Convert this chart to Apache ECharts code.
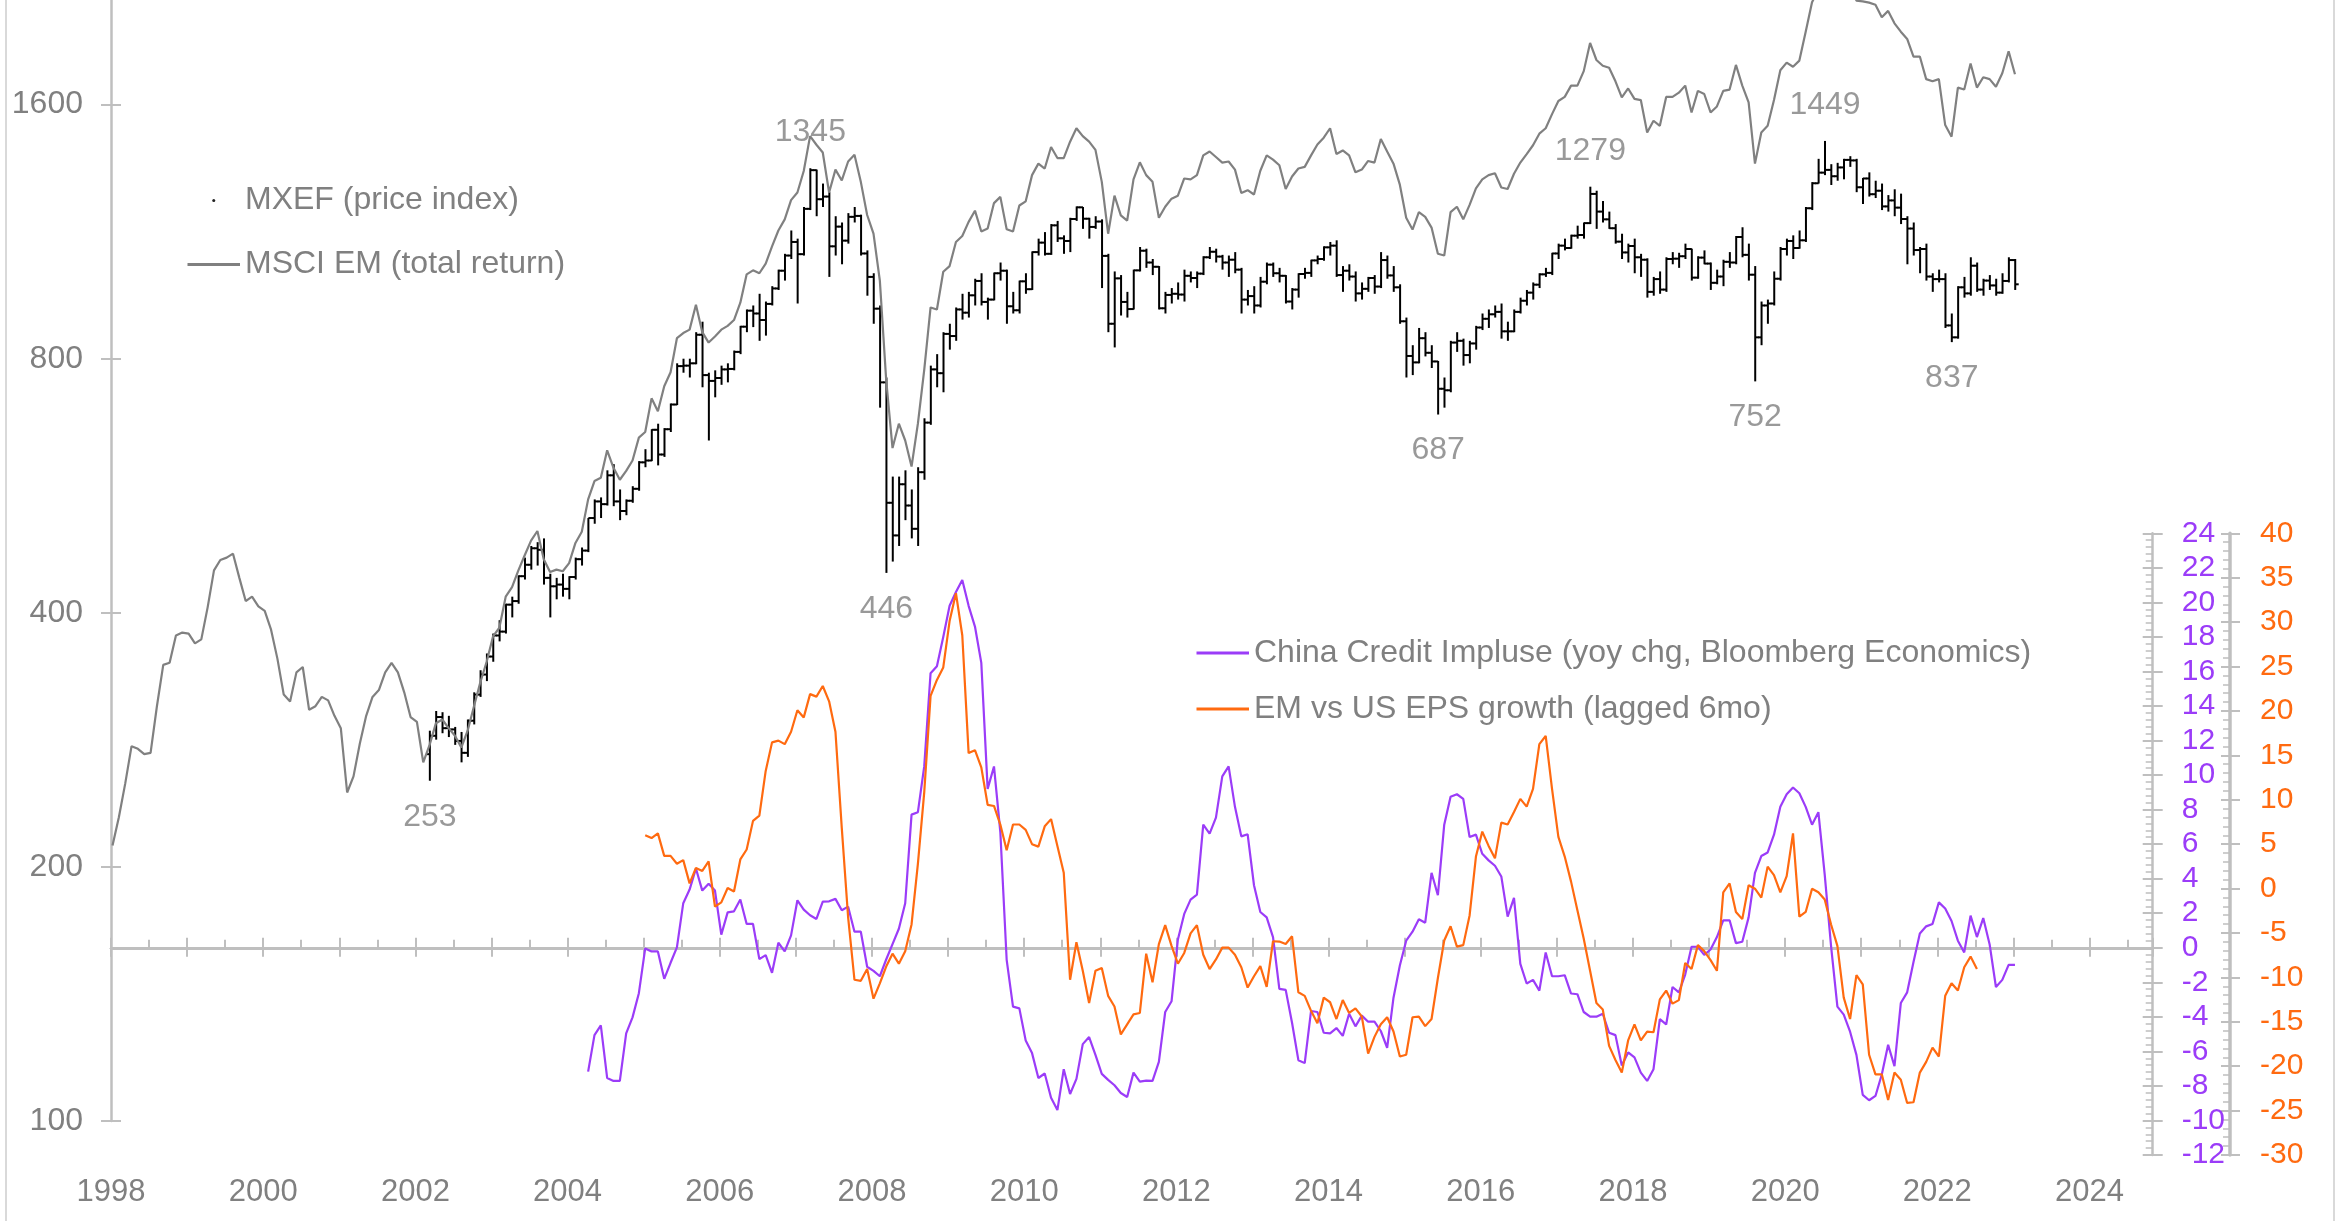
<!DOCTYPE html>
<html>
<head>
<meta charset="utf-8">
<title>MXEF vs China credit impulse</title>
<script src="https://cdn.jsdelivr.net/npm/echarts@6/dist/echarts.min.js"></script>
<style>
  html, body { margin: 0; padding: 0; background: #fff; }
  #wrap { position: relative; width: 2336px; height: 1221px; overflow: hidden; }
  #chart { position: absolute; left: 0; top: 0; width: 2336px; height: 1221px; }
  .edge { position: absolute; top: 0; width: 2px; height: 1221px; background: #d9d9d9; }
</style>
</head>
<body>
<div id="wrap">
  <div id="chart"></div>
  <div class="edge" style="left:5px"></div>
  <div class="edge" style="left:2333px"></div>
</div>
<script>
// x values are chart years; each series is monthly from its start
const totalReturnStart = 1998.02
const mxefStart = 2002.19
const impulseStart = 2004.27
const epsStart = 2005.02

const priceTicks = [100, 200, 400, 800, 1600, 3200]
const yearLabels = [1998, 2000, 2002, 2004, 2006, 2008, 2010, 2012, 2014, 2016, 2018, 2020, 2022, 2024]

// MSCI EM (total return), grey line
const totalReturn = [
  212, 229, 251, 278, 276, 272, 273, 310, 347, 349, 376, 379,
  378, 368, 372, 406, 449, 462, 465, 470, 440, 413, 418, 407,
  402, 382, 353, 320, 314, 340, 345, 307, 310, 318, 315, 302,
  292, 245, 256, 280, 302, 318, 324, 340, 349, 340, 322, 301,
  297, 266, 279, 296, 299, 292, 286, 277, 290, 310, 331, 350,
  375, 384, 418, 429, 449, 468, 487, 500, 463, 447, 450, 448,
  458, 484, 499, 545, 573, 578, 623, 594, 575, 589, 606, 645,
  655, 718, 693, 742, 771, 846, 858, 866, 927, 860, 836, 850,
  866, 875, 889, 932, 1007, 1018, 1010, 1037, 1087, 1135, 1170, 1233,
  1259, 1335, 1468, 1434, 1404, 1259, 1340, 1301, 1370, 1395, 1296, 1184,
  1125, 990, 755, 627, 670, 640, 596, 670, 776, 920, 915, 1014,
  1030, 1100, 1118, 1162, 1198, 1132, 1141, 1223, 1244, 1139, 1132, 1215,
  1229, 1320, 1362, 1344, 1425, 1383, 1383, 1446, 1500, 1468, 1446, 1414,
  1296, 1125, 1248, 1183, 1166, 1305, 1367, 1320, 1296, 1175, 1211, 1238,
  1248, 1308, 1305, 1320, 1393, 1408, 1387, 1366, 1370, 1340, 1257, 1267,
  1252, 1336, 1393, 1377, 1356, 1271, 1315, 1344, 1350, 1393, 1435, 1462,
  1500, 1398, 1412, 1393, 1330, 1340, 1372, 1366, 1457, 1408, 1362, 1286,
  1175, 1138, 1193, 1178, 1144, 1065, 1060, 1193, 1211, 1170, 1217, 1273,
  1305, 1320, 1327, 1276, 1271, 1325, 1366, 1398, 1432, 1478, 1500, 1559,
  1616, 1634, 1685, 1685, 1753, 1893, 1807, 1779, 1769, 1705, 1632, 1672,
  1625, 1620, 1483, 1531, 1510, 1634, 1634, 1653, 1685, 1566, 1661, 1647,
  1566, 1592, 1661, 1667, 1783, 1685, 1610, 1362, 1483, 1510, 1620, 1757,
  1794, 1774, 1804, 1952, 2115, 2190, 2200, 2170, 2215, 2250, 2240, 2125,
  2120, 2113, 2101, 2031, 2066, 1997, 1952, 1914, 1824, 1824, 1715, 1705,
  1715, 1513, 1466, 1676, 1667, 1790, 1676, 1724, 1715, 1680, 1743, 1851,
  1738
]

// MXEF monthly bars (open / high / low / close)
const mxefOpen = [
  272, 286, 301,
  292, 291, 282, 273, 298, 320, 338, 355, 376, 380, 409, 413,
  442, 456, 477, 475, 440, 430, 432, 427, 441, 463, 474, 518,
  542, 538, 582, 542, 528, 543, 561, 603, 606, 659, 616, 660,
  706, 784, 785, 790, 854, 765, 753, 759, 777, 778, 815, 873,
  912, 905, 889, 929, 969, 1017, 1060, 1100, 1064, 1204, 1338, 1236,
  1245, 1087, 1147, 1104, 1178, 1181, 1066, 1000, 917, 750, 540, 494,
  568, 536, 503, 587, 672, 777, 769, 856, 851, 915, 907, 951,
  989, 934, 940, 1010, 1017, 923, 913, 988, 967, 1070, 1098, 1065,
  1151, 1111, 1103, 1171, 1209, 1172, 1146, 1163, 1059, 880, 996, 934,
  916, 1018, 1074, 1040, 1028, 918, 952, 955, 953, 1003, 997, 1009,
  1055, 1071, 1057, 1040, 1048, 1020, 940, 949, 925, 987, 1034, 1010,
  1003, 935, 966, 1008, 1011, 1046, 1050, 1084, 1089, 1005, 1017, 1001,
  956, 968, 997, 974, 1047, 1004, 972, 886, 806, 792, 846, 813,
  794, 737, 734, 836, 840, 808, 834, 871, 892, 903, 909, 862,
  862, 909, 937, 958, 979, 1007, 1011, 1066, 1089, 1082, 1119, 1121,
  1158, 1254, 1195, 1170, 1142, 1101, 1069, 1088, 1055, 1048, 960, 994,
  966, 1050, 1051, 1058, 1079, 998, 1054, 1037, 984, 1001, 1042, 1040,
  1115, 1062, 1006, 848, 925, 930, 995, 1079, 1103, 1082, 1105, 1206,
  1291, 1329, 1339, 1316, 1348, 1376, 1374, 1277, 1308, 1253, 1265, 1212,
  1232, 1208, 1171, 1141, 1076, 1079, 1001, 994, 994, 876, 848, 972,
  956, 1031, 966, 990, 977, 958, 989, 1047
]
const mxefHigh = [
  290, 306, 305,
  302, 293, 289, 299, 322, 342, 358, 378, 392, 410, 418, 443,
  465, 480, 485, 490, 445, 440, 445, 442, 465, 478, 518, 545,
  548, 590, 600, 560, 545, 565, 605, 625, 660, 670, 662, 708,
  790, 800, 800, 860, 885, 770, 775, 785, 790, 818, 875, 915,
  925, 955, 935, 975, 1020, 1065, 1135, 1110, 1210, 1345, 1340, 1290,
  1260, 1180, 1160, 1190, 1210, 1185, 1075, 1010, 925, 760, 580, 580,
  590, 560, 595, 680, 785, 810, 860, 880, 920, 955, 960, 995,
  1010, 945, 1012, 1040, 1020, 960, 990, 1010, 1072, 1110, 1130, 1155,
  1165, 1120, 1175, 1212, 1210, 1175, 1180, 1170, 1065, 1015, 1005, 960,
  1020, 1085, 1080, 1050, 1030, 960, 970, 985, 1020, 1015, 1015, 1058,
  1085, 1080, 1062, 1060, 1070, 1025, 965, 975, 1000, 1040, 1040, 1025,
  1005, 970, 1010, 1025, 1048, 1060, 1087, 1100, 1105, 1030, 1035, 1015,
  985, 1000, 1005, 1070, 1060, 1030, 980, 895, 830, 870, 860, 830,
  795, 760, 840, 860, 845, 840, 875, 905, 915, 925, 930, 885,
  915, 945, 965, 985, 1010, 1025, 1068, 1095, 1110, 1122, 1150, 1160,
  1279, 1265, 1230, 1195, 1155, 1125, 1095, 1110, 1065, 1052, 1000, 1015,
  1055, 1070, 1068, 1095, 1080, 1058, 1075, 1040, 1020, 1048, 1070, 1118,
  1145, 1095, 1030, 935, 940, 1015, 1085, 1110, 1120, 1135, 1210, 1295,
  1380, 1449, 1360, 1365, 1380, 1390, 1380, 1310, 1330, 1300, 1290, 1250,
  1270, 1255, 1180, 1160, 1085, 1095, 1010, 1020, 1010, 905, 975, 1000,
  1055, 1040, 995, 1005, 995, 1010, 1055, 1050
]
const mxefLow = [
  253, 283, 288,
  285, 279, 266, 270, 295, 318, 332, 350, 370, 378, 395, 410,
  438, 450, 455, 432, 395, 415, 418, 415, 438, 455, 472, 510,
  518, 536, 535, 515, 522, 540, 558, 595, 605, 598, 612, 655,
  705, 770, 760, 788, 740, 640, 720, 745, 750, 775, 810, 860,
  872, 840, 852, 925, 965, 990, 1050, 930, 1060, 1200, 1180, 1210,
  1000, 1060, 1035, 1095, 1160, 1060, 950, 880, 700, 446, 460, 480,
  515, 490, 480, 575, 668, 740, 730, 820, 840, 890, 895, 925,
  925, 890, 938, 990, 880, 905, 905, 955, 965, 1060, 1060, 1062,
  1100, 1065, 1070, 1165, 1140, 1110, 1140, 970, 860, 825, 900, 895,
  915, 1015, 1025, 1005, 915, 905, 930, 940, 935, 985, 970, 1005,
  1050, 1040, 1020, 1000, 1010, 905, 925, 905, 920, 980, 1000, 985,
  930, 915, 945, 995, 1000, 1035, 1045, 1060, 1000, 960, 990, 935,
  940, 960, 955, 970, 995, 960, 880, 760, 765, 790, 805, 780,
  687, 700, 730, 815, 785, 790, 820, 865, 870, 895, 845, 840,
  860, 905, 925, 940, 970, 1000, 1005, 1050, 1075, 1080, 1110, 1110,
  1155, 1140, 1160, 1140, 1095, 1050, 1040, 1010, 1000, 945, 950, 955,
  960, 1035, 1025, 1050, 990, 995, 1035, 965, 980, 975, 1025, 1035,
  1055, 990, 752, 830, 880, 925, 990, 1060, 1050, 1080, 1100, 1200,
  1290, 1320, 1285, 1300, 1305, 1350, 1260, 1220, 1245, 1240, 1200, 1195,
  1180, 1155, 1035, 1060, 1010, 990, 960, 985, 870, 837, 845, 945,
  950, 960, 950, 965, 950, 955, 985, 965
]
const mxefClose = [
  286, 301, 292,
  291, 282, 273, 298, 320, 338, 355, 376, 380, 409, 413, 442,
  456, 477, 475, 440, 430, 432, 427, 441, 463, 474, 518, 542,
  538, 582, 542, 528, 543, 561, 603, 606, 659, 616, 660, 706,
  784, 785, 790, 854, 765, 753, 759, 777, 778, 815, 873, 912,
  905, 889, 929, 969, 1017, 1060, 1100, 1064, 1204, 1338, 1236, 1245,
  1087, 1147, 1104, 1178, 1181, 1066, 1000, 917, 750, 540, 494, 568,
  536, 503, 587, 672, 777, 769, 856, 851, 915, 907, 951, 989,
  934, 940, 1010, 1017, 923, 913, 988, 967, 1070, 1098, 1065, 1151,
  1111, 1103, 1171, 1209, 1172, 1146, 1163, 1059, 880, 996, 934, 916,
  1018, 1074, 1040, 1028, 918, 952, 955, 953, 1003, 997, 1009, 1055,
  1071, 1057, 1040, 1048, 1020, 940, 949, 925, 987, 1034, 1010, 1003,
  935, 966, 1008, 1011, 1046, 1050, 1084, 1089, 1005, 1017, 1001, 956,
  968, 997, 974, 1047, 1004, 972, 886, 806, 792, 846, 813, 794,
  737, 734, 836, 840, 808, 834, 871, 892, 903, 909, 862, 862,
  909, 937, 958, 979, 1007, 1011, 1066, 1089, 1082, 1119, 1121, 1158,
  1254, 1195, 1170, 1142, 1101, 1069, 1088, 1055, 1048, 960, 994, 966,
  1050, 1051, 1058, 1079, 998, 1054, 1037, 984, 1001, 1042, 1040, 1115,
  1062, 1006, 848, 925, 930, 995, 1079, 1103, 1082, 1105, 1206, 1291,
  1329, 1339, 1316, 1348, 1376, 1374, 1277, 1308, 1253, 1265, 1212, 1232,
  1208, 1171, 1141, 1076, 1079, 1001, 994, 994, 876, 848, 972, 956,
  1031, 966, 990, 977, 958, 989, 1047, 980
]

// labelled extremes: month index into the MXEF arrays and the printed value
const extremeMonths = [0, 60, 72, 159, 183, 209, 220, 240]
const extremeValues = [253, 1345, 446, 687, 1279, 752, 1449, 837]

// China credit impulse (left of the two right axes)
const creditImpulse = [
  -7.17, -5.06, -4.49, -7.54, -7.71, -7.71, -4.96, -4.03, -2.63, -0.04,
  -0.21, -0.21, -1.80, -0.87, 0.02, 2.58, 3.37, 4.59, 3.31, 3.70,
  3.31, 0.76, 2.05, 2.11, 2.79, 1.38, 1.38, -0.66, -0.43, -1.45,
  0.29, -0.21, 0.72, 2.75, 2.21, 1.88, 1.67, 2.67, 2.69, 2.83,
  2.17, 2.38, 0.93, 0.93, -1.10, -1.34, -1.65, -0.68, 0.21, 1.10,
  2.58, 7.71, 7.85, 10.5, 15.9, 16.3, 18.0, 19.8, 20.6, 21.3,
  19.8, 18.6, 16.5, 9.2, 10.5, 6.7, -0.7, -3.41, -3.51, -5.37,
  -6.10, -7.54, -7.28, -8.68, -9.40, -7.03, -8.47, -7.59, -5.58, -5.17,
  -6.20, -7.30, -7.65, -7.96, -8.41, -8.64, -7.23, -7.75, -7.69, -7.71,
  -6.61, -3.72, -3.10, 0.48, 1.96, 2.79, 3.08, 7.13, 6.61, 7.54,
  9.92, 10.5, 8.16, 6.45, 6.57, 3.62, 2.07, 1.76, 0.62, -2.38,
  -2.44, -4.34, -6.51, -6.68, -3.66, -3.72, -4.92, -4.96, -4.65, -5.1,
  -3.82, -4.55, -3.93, -4.28, -4.28, -4.82, -5.79, -2.89, -1.03, 0.41,
  0.93, 1.65, 1.45, 4.34, 3.04, 7.13, 8.74, 8.89, 8.62, 6.41,
  6.55, 5.44, 5.06, 4.75, 4.13, 1.80, 2.89, -0.93, -2.07, -1.86,
  -2.48, -0.27, -1.65, -1.65, -1.59, -2.65, -2.69, -3.72, -3.99, -3.99,
  -3.82, -4.92, -5.06, -6.82, -6.06, -6.35, -7.23, -7.71, -7.03, -4.13,
  -4.44, -2.27, -2.58, -1.55, 0.06, 0.06, -0.41, -0.10, 0.62, 1.59,
  1.59, 0.27, 0.35, 1.76, 4.34, 5.31, 5.52, 6.55, 8.16, 8.89,
  9.28, 8.95, 8.16, 7.13, 7.85, 4.24, 0.10, -3.41, -3.87, -4.86,
  -6.20, -8.52, -8.83, -8.58, -7.34, -5.62, -6.86, -3.20, -2.58, -0.83,
  0.83, 1.24, 1.38, 2.63, 2.27, 1.55, 0.41, -0.27, 1.86, 0.62,
  1.72, 0.21, -2.27, -1.86, -0.99, -0.99
]

// EM vs US EPS growth, lagged 6mo (outer right axis)
const epsGrowth = [
  6.01, 5.69, 6.21, 3.68, 3.68, 2.79, 3.20, 0.58, 2.31, 1.99,
  3.07, -2.03, -1.55, 0.06, -0.34, 3.28, 4.40, 7.62, 8.22, 13.24,
  16.46, 16.66, 16.26, 17.66, 20.08, 19.27, 21.89, 21.61, 22.81, 21.08,
  17.66, 6.81, -3.24, -10.27, -10.39, -9.06, -12.40, -10.67, -8.78, -7.33,
  -8.46, -7.05, -4.04, 2.79, 10.83, 21.69, 23.49, 24.90, 30.12, 33.26,
  28.52, 15.25, 15.58, 13.65, 9.43, 9.30, 7.21, 4.32, 7.21, 7.21,
  6.61, 5.00, 4.72, 7.01, 7.82, 4.80, 1.79, -10.27, -6.05, -9.26,
  -12.88, -9.26, -8.94, -12.08, -13.28, -16.42, -15.29, -14.17, -14.01, -7.33,
  -10.55, -6.25, -4.12, -6.45, -8.46, -7.25, -5.04, -4.12, -7.46, -9.06,
  -7.98, -6.65, -6.65, -7.46, -8.86, -11.15, -9.87, -8.74, -11.07, -5.93,
  -5.97, -6.25, -5.37, -11.68, -12.08, -13.77, -15.17, -12.28, -12.80, -14.69,
  -12.56, -14.0, -13.49, -14.4, -18.59, -16.7, -15.29, -14.49, -16.1, -18.91,
  -18.71, -14.49, -14.41, -15.49, -14.69, -10.07, -5.85, -4.24, -6.53, -6.37,
  -3.03, 3.60, 6.41, 4.80, 3.40, 7.42, 7.21, 8.62, 10.10, 9.22,
  11.23, 16.26, 17.18, 11.23, 5.81, 3.60, 0.78, -2.43, -5.65, -9.26,
  -12.88, -13.61, -17.71, -19.31, -20.72, -17.10, -15.29, -17.10, -16.10, -16.18,
  -12.48, -11.48, -12.96, -12.56, -8.38, -9.06, -6.37, -7.05, -8.06, -9.26,
  -0.42, 0.58, -2.63, -3.44, 0.38, -0.02, -1.02, 2.47, 1.51, -0.42,
  1.39, 6.21, -3.16, -2.63, -0.02, -0.42, -1.23, -4.04, -6.45, -12.28,
  -14.69, -9.75, -10.79, -18.71, -20.92, -20.92, -23.81, -20.72, -21.52, -24.14,
  -24.06, -20.72, -19.51, -17.91, -18.91, -12.08, -10.67, -11.48, -8.86, -7.66,
  -9.06
]

const GREY = '#808080'
const AXIS = '#bfbfbf'
const PURPLE = '#9b3cf8'
const ORANGE = '#ff6a10'
const FONT = '"Liberation Sans", Arial, sans-serif'

const monthly = (start, values) => values.map((v, i) => [start + i / 12, v])

const mxefBars = mxefClose.map((c, j) => [mxefStart + j / 12, mxefOpen[j], mxefHigh[j], mxefLow[j], c])

const extremePoints = extremeMonths.map((j, n) => {
  const isHigh = extremeValues[n] === mxefHigh[j]
  return {
    value: [mxefStart + j / 12, extremeValues[n]],
    label: { offset: [0, isHigh ? -36 : 36] }
  }
})

function renderBar(params, api) {
  const x = api.value(0)
  const o = api.coord([x, api.value(1)])
  const h = api.coord([x, api.value(2)])
  const l = api.coord([x, api.value(3)])
  const c = api.coord([x, api.value(4)])
  const style = { stroke: '#000', lineWidth: 2 }
  return {
    type: 'group',
    children: [
      { type: 'line', shape: { x1: h[0], y1: h[1], x2: l[0], y2: l[1] }, style },
      { type: 'line', shape: { x1: o[0] - 3.5, y1: o[1], x2: o[0], y2: o[1] }, style },
      { type: 'line', shape: { x1: c[0], y1: c[1], x2: c[0] + 3.5, y2: c[1] }, style }
    ]
  }
}

const X_MIN = 1998
const X_MAX = 2024.83

const gridLeft = 111
const gridWidth = 2041.7

const chart = echarts.init(document.getElementById('chart'), null, { renderer: 'canvas' })

const zeroLineAxis = (interval, inside, length) => ({
  type: 'value',
  gridIndex: 1,
  min: X_MIN,
  max: X_MAX,
  interval,
  position: 'bottom',
  axisLine: { show: true, onZero: true, onZeroAxisIndex: 3, lineStyle: { color: AXIS, width: 2.5 } },
  axisTick: { show: true, inside, length, lineStyle: { color: AXIS, width: 2 } },
  axisLabel: { show: false },
  splitLine: { show: false }
})

const tickOverlay = (gridIndex, position, min, max, interval, inside, length, offset) => ({
  type: 'value',
  gridIndex,
  position,
  offset: offset || 0,
  min,
  max,
  interval,
  axisLine: { show: false },
  axisTick: { show: true, inside, length, lineStyle: { color: AXIS, width: 2 } },
  axisLabel: { show: false },
  splitLine: { show: false }
})

const option = {
  animation: false,
  backgroundColor: '#ffffff',
  textStyle: { fontFamily: FONT },
  grid: [
    { left: gridLeft, width: gridWidth, top: -149.5, height: 1270.5, containLabel: false, outerBoundsMode: 'none' },
    { left: gridLeft, width: gridWidth, top: 533.3, height: 621.7, containLabel: false, outerBoundsMode: 'none' }
  ],
  legend: [
    {
      orient: 'vertical',
      left: 187.5,
      top: 182.5,
      padding: 0,
      itemWidth: 52.5,
      itemHeight: 3,
      itemGap: 28,
      selectedMode: false,
      symbolKeepAspect: true,
      textStyle: { color: GREY, fontSize: 32, lineHeight: 36, fontFamily: FONT },
      data: [
        { name: 'MXEF (price index)', icon: 'circle', itemStyle: { color: '#222' } },
        { name: 'MSCI EM (total return)', icon: 'rect', itemStyle: { color: GREY } }
      ]
    },
    {
      orient: 'vertical',
      left: 1196.5,
      top: 635,
      padding: 0,
      itemWidth: 52.5,
      itemHeight: 3,
      itemGap: 20,
      selectedMode: false,
      textStyle: { color: GREY, fontSize: 32, lineHeight: 36, fontFamily: FONT },
      data: [
        { name: 'China Credit Impluse (yoy chg, Bloomberg Economics)', icon: 'rect', itemStyle: { color: PURPLE } },
        { name: 'EM vs US EPS growth (lagged 6mo)', icon: 'rect', itemStyle: { color: ORANGE } }
      ]
    }
  ],
  xAxis: [
    { type: 'value', gridIndex: 0, min: X_MIN, max: X_MAX, show: false },
    zeroLineAxis(0.5, true, 8),
    zeroLineAxis(1, true, 10),
    zeroLineAxis(1, false, 9),
    {
      type: 'value',
      gridIndex: 1,
      min: X_MIN,
      max: X_MAX,
      interval: 2,
      position: 'bottom',
      axisLine: { show: false, onZero: false },
      axisTick: { show: false },
      splitLine: { show: false },
      axisLabel: {
        show: true,
        margin: 22,
        color: GREY,
        fontSize: 31,
        hideOverlap: false,
        formatter: v => (yearLabels.includes(v) ? String(v) : '')
      }
    }
  ],
  yAxis: [
    // 0: price scale for the top series
    { type: 'log', logBase: 2, gridIndex: 0, min: priceTicks[0], max: priceTicks[priceTicks.length - 1], show: false },
    // 1: visible left axis, one step per doubling
    {
      type: 'value',
      gridIndex: 0,
      position: 'left',
      min: 0,
      max: priceTicks.length - 1,
      interval: 1,
      axisLine: { show: true, lineStyle: { color: AXIS, width: 2.5 } },
      axisTick: { show: true, length: 10, lineStyle: { color: AXIS, width: 2 } },
      axisLabel: { color: GREY, fontSize: 32, margin: 28, formatter: v => String(priceTicks[v]) },
      splitLine: { show: false }
    },
    // 2: inner half of the left ticks
    tickOverlay(0, 'left', 0, priceTicks.length - 1, 1, true, 10),
    // 3: credit impulse axis
    {
      type: 'value',
      gridIndex: 1,
      position: 'right',
      min: -12,
      max: 24,
      interval: 2,
      axisLine: { show: true, lineStyle: { color: AXIS, width: 2.5 } },
      axisTick: { show: true, inside: true, length: 10, lineStyle: { color: AXIS, width: 2 } },
      minorTick: { show: true, splitNumber: 5, length: 7, lineStyle: { color: AXIS, width: 1.5 } },
      axisLabel: { color: PURPLE, fontSize: 30, margin: 29 },
      splitLine: { show: false }
    },
    // 4: outer half of the impulse ticks
    tickOverlay(1, 'right', -12, 24, 2, false, 10),
    // 5: EPS growth axis
    {
      type: 'value',
      gridIndex: 1,
      position: 'right',
      offset: 77.3,
      min: -30,
      max: 40,
      interval: 5,
      axisLine: { show: true, lineStyle: { color: AXIS, width: 3.5 } },
      axisTick: { show: true, inside: true, length: 9, lineStyle: { color: AXIS, width: 2 } },
      minorTick: { show: true, splitNumber: 5, length: 7, lineStyle: { color: AXIS, width: 1.5 } },
      axisLabel: { color: ORANGE, fontSize: 30, margin: 30 },
      splitLine: { show: false }
    },
    // 6: outer half of the EPS ticks
    tickOverlay(1, 'right', -30, 40, 5, false, 10, 77.3)
  ],
  series: [
    {
      name: 'MSCI EM (total return)',
      type: 'line',
      xAxisIndex: 0,
      yAxisIndex: 0,
      data: monthly(totalReturnStart, totalReturn),
      symbol: 'none',
      lineStyle: { color: GREY, width: 2.2 },
      itemStyle: { color: GREY }
    },
    {
      name: 'MXEF (price index)',
      type: 'custom',
      xAxisIndex: 0,
      yAxisIndex: 0,
      renderItem: renderBar,
      encode: { x: 0, y: [1, 2, 3, 4] },
      itemStyle: { color: '#222' },
      data: mxefBars
    },
    {
      name: 'extremes',
      type: 'scatter',
      xAxisIndex: 0,
      yAxisIndex: 0,
      symbolSize: 1,
      itemStyle: { color: 'rgba(0,0,0,0)' },
      label: {
        show: true,
        position: 'inside',
        color: GREY,
        fontSize: 32,
        fontFamily: FONT,
        formatter: p => String(p.value[1])
      },
      data: extremePoints
    },
    {
      name: 'China Credit Impluse (yoy chg, Bloomberg Economics)',
      type: 'line',
      xAxisIndex: 1,
      yAxisIndex: 3,
      data: monthly(impulseStart, creditImpulse),
      symbol: 'none',
      lineStyle: { color: PURPLE, width: 2.2 },
      itemStyle: { color: PURPLE }
    },
    {
      name: 'EM vs US EPS growth (lagged 6mo)',
      type: 'line',
      xAxisIndex: 1,
      yAxisIndex: 5,
      data: monthly(epsStart, epsGrowth),
      symbol: 'none',
      lineStyle: { color: ORANGE, width: 2.2 },
      itemStyle: { color: ORANGE }
    }
  ]
}

chart.setOption(option)

window.addEventListener('resize', () => chart.resize())
</script>
</body>
</html>
